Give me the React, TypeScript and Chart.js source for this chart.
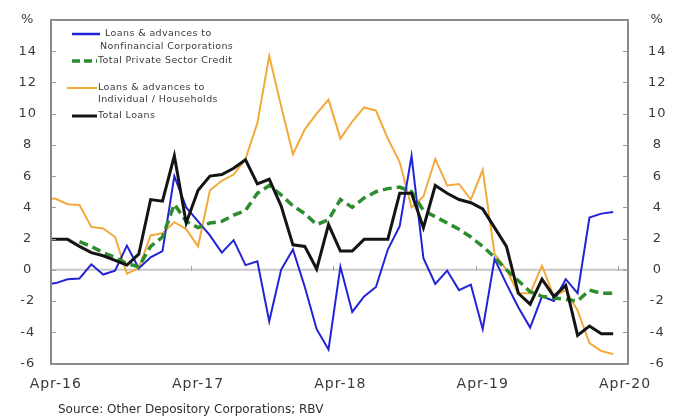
import React, { useEffect, useRef } from 'react';
import { Chart, registerables } from 'chart.js';

Chart.register(...registerables);

// Monthly categories (Mar-16 is only the clipped lead-in at the left border)
const months = [
  'Mar-16', 'Apr-16', 'May-16', 'Jun-16', 'Jul-16', 'Aug-16', 'Sep-16', 'Oct-16', 'Nov-16', 'Dec-16', 'Jan-17', 'Feb-17', 'Mar-17',
  'Apr-17', 'May-17', 'Jun-17', 'Jul-17', 'Aug-17', 'Sep-17', 'Oct-17', 'Nov-17', 'Dec-17', 'Jan-18', 'Feb-18', 'Mar-18',
  'Apr-18', 'May-18', 'Jun-18', 'Jul-18', 'Aug-18', 'Sep-18', 'Oct-18', 'Nov-18', 'Dec-18', 'Jan-19', 'Feb-19', 'Mar-19',
  'Apr-19', 'May-19', 'Jun-19', 'Jul-19', 'Aug-19', 'Sep-19', 'Oct-19', 'Nov-19', 'Dec-19', 'Jan-20', 'Feb-20', 'Mar-20',
];

const xTickLabels = ['Apr-16', 'Apr-17', 'Apr-18', 'Apr-19', 'Apr-20'];
const xTickMonths = [0, 12, 24, 36, 48];
const yTickValues = [-6, -4, -2, 0, 2, 4, 6, 8, 10, 12, 14, 16];

const nonfinancialCorps = [
  -0.95, -0.85, -0.6, -0.55, 0.35, -0.3, -0.05, 1.55, 0.1, 0.8, 1.2, 6.0, 4.0,
  3.1, 2.2, 1.1, 1.9, 0.3, 0.55, -3.3, 0.0, 1.3, -1.1, -3.8, -5.1,
  0.2, -2.7, -1.7, -1.1, 1.3, 2.8, 7.3, 0.75, -0.9, -0.05, -1.3, -0.95,
  -3.8, 0.7, -0.9, -2.4, -3.7, -1.7, -2.0, -0.6, -1.5, 3.35, 3.6, 3.7,
];

const privateSectorCredit = [
  null, null, null, 1.8, 1.5, 1.1, 0.8, 0.4, 0.2, 1.5, 2.1, 4.2, 3.1,
  2.7, 3.0, 3.1, 3.5, 3.8, 4.9, 5.4, 4.8, 4.1, 3.6, 2.9, 3.2,
  4.5, 4.0, 4.6, 5.0, 5.2, 5.3, 5.0, 3.8, 3.4, 3.0, 2.6, 2.1,
  1.5, 0.8, 0.0, -0.7, -1.4, -1.7, -1.8, -1.9, -2.0, -1.3, -1.5, -1.5,
];

const households = [
  4.6, 4.55, 4.2, 4.15, 2.75, 2.65, 2.1, -0.25, 0.1, 2.2, 2.35, 3.05, 2.6,
  1.5, 5.1, 5.7, 6.1, 7.1, 9.4, 13.7, 10.5, 7.4, 9.0, 10.0, 10.9,
  8.4, 9.5, 10.4, 10.2, 8.4, 6.9, 4.0, 4.7, 7.1, 5.4, 5.5, 4.5,
  6.4, 1.0, 0.0, -1.5, -1.5, 0.25, -1.7, -1.3, -2.6, -4.7, -5.2, -5.4,
];

const totalLoans = [
  1.95, 1.95, 1.95, 1.5, 1.1, 0.9, 0.6, 0.3, 1.0, 4.5, 4.4, 7.3, 3.0,
  5.1, 6.0, 6.1, 6.5, 7.05, 5.5, 5.8, 4.1, 1.6, 1.5, 0.05, 2.9,
  1.2, 1.2, 1.95, 1.95, 1.95, 4.9, 4.9, 2.7, 5.4, 4.9, 4.5, 4.3,
  3.9, 2.7, 1.5, -1.5, -2.2, -0.6, -1.7, -1.0, -4.2, -3.6, -4.1, -4.1,
];

const COLORS = {
  blue: '#2222d6',
  green: '#2d8c2d',
  orange: '#f2a93a',
  black: '#141414',
  axis: '#888888',
  zero: '#c6c6c6',
  text: '#3a3a3a',
};

const FONT = '"DejaVu Sans", sans-serif';

const toPoints = (arr: (number | null)[]) => arr.map((v, k) => ({ x: k - 1, y: v }));

const strokeLine = (ctx: CanvasRenderingContext2D, x1: number, y1: number, x2: number, y2: number) => {
  ctx.beginPath();
  ctx.moveTo(x1, y1);
  ctx.lineTo(x2, y2);
  ctx.stroke();
};

const decorPlugin = {
  id: 'decor',
  beforeUpdate(chart: any) {
    chart.ctx.letterSpacing = '1px';
  },
  beforeDraw(chart: any) {
    chart.ctx.letterSpacing = '1px';
  },
  beforeDatasetsDraw(chart: any) {
    const { ctx, chartArea: a, scales } = chart;
    const y0 = scales.y.getPixelForValue(0);
    ctx.save();
    ctx.setLineDash([]);
    ctx.strokeStyle = COLORS.zero;
    ctx.lineWidth = 2;
    strokeLine(ctx, a.left, y0, a.right, y0);
    ctx.lineWidth = 1;
    ctx.strokeStyle = '#a0a0a0';
    for (const m of xTickMonths.slice(1)) {
      const px = Math.round(scales.x.getPixelForValue(m - 0.6)) + 0.5;
      strokeLine(ctx, px, y0 - 4, px, y0 + 1);
    }
    ctx.restore();
  },
  afterDraw(chart: any) {
    const { ctx, chartArea: a, scales } = chart;
    ctx.save();
    ctx.setLineDash([]);
    ctx.globalAlpha = 1;
    // plot border
    ctx.strokeStyle = COLORS.axis;
    ctx.lineWidth = 2;
    ctx.strokeRect(Math.round(a.left), Math.round(a.top), Math.round(a.right - a.left), Math.round(a.bottom - a.top));
    // inner tick marks on both value axes
    ctx.lineWidth = 1;
    ctx.strokeStyle = '#999999';
    for (const v of yTickValues) {
      const py = Math.round(scales.y.getPixelForValue(v)) + 0.5;
      strokeLine(ctx, a.left, py, a.left + 5, py);
      strokeLine(ctx, a.right - 5, py, a.right, py);
    }

    // legend
    const drawSample = (x1: number, x2: number, y: number, color: string, w: number, dash: number[]) => {
      ctx.save();
      ctx.strokeStyle = color;
      ctx.lineWidth = w;
      ctx.setLineDash(dash);
      strokeLine(ctx, x1, y, x2, y);
      ctx.restore();
    };
    drawSample(72, 100, 34, COLORS.blue, 2.5, []);
    drawSample(72, 97, 61, COLORS.green, 3.5, [8, 4]);
    drawSample(67, 97, 88, COLORS.orange, 2, []);
    drawSample(72, 97, 116, COLORS.black, 3, []);

    ctx.fillStyle = COLORS.text;
    ctx.font = `9.5px ${FONT}`;
    ctx.letterSpacing = '0.4px';
    ctx.textAlign = 'left';
    ctx.textBaseline = 'middle';
    ctx.fillText('Loans & advances to', 105, 34);
    ctx.fillText('Nonfinancial Corporations', 100, 47);
    ctx.fillText('Total Private Sector Credit', 98, 61);
    ctx.fillText('Loans & advances to', 98, 88);
    ctx.fillText('Individual / Households', 98, 100);
    ctx.fillText('Total Loans', 98, 116);

    // source
    ctx.font = `12px ${FONT}`;
    ctx.letterSpacing = '0px';
    ctx.fillStyle = '#2e2e2e';
    ctx.fillText('Source: Other Depository Corporations; RBV', 58, 410);
    ctx.restore();
  },
};

const yTickCallback = (v: any) => (v === 16 ? '%' : String(v));

const fitY = (width: number) => (s: any) => {
  s.width = width;
  s.paddingTop = 0;
  s.paddingBottom = 0;
};

export default function App() {
  const ref = useRef<HTMLCanvasElement>(null);

  useEffect(() => {
    document.body.style.margin = '0';
    const canvas = ref.current;
    if (!canvas) return;

    const line = (data: (number | null)[], color: string, width: number, dash: number[] = []) => ({
      data: toPoints(data),
      borderColor: color,
      backgroundColor: color,
      borderWidth: width,
      borderDash: dash,
      pointRadius: 0,
      tension: 0,
      fill: false,
      spanGaps: false,
      yAxisID: 'y',
    });

    const chart = new Chart(canvas, {
      type: 'line',
      data: {
        datasets: [
          { label: 'Total Loans', ...line(totalLoans, COLORS.black, 3) },
          { label: 'Total Private Sector Credit', ...line(privateSectorCredit, COLORS.green, 3.5, [9, 5]) },
          { label: 'Loans & advances to Nonfinancial Corporations', ...line(nonfinancialCorps, COLORS.blue, 2) },
          { label: 'Loans & advances to Individual / Households', ...line(households, COLORS.orange, 2) },
        ] as any,
      },
      options: {
        animation: false,
        responsive: false,
        maintainAspectRatio: false,
        layout: { padding: { top: 20, left: 0, right: 0, bottom: 0 } },
        plugins: {
          legend: { display: false },
          tooltip: { enabled: false },
          title: { display: false },
        },
        scales: {
          x: {
            type: 'linear',
            position: 'bottom',
            min: -0.4,
            max: 48.25,
            grid: { display: false, drawTicks: false },
            border: { display: false },
            afterBuildTicks: (s: any) => {
              s.ticks = xTickMonths.map((v) => ({ value: v }));
            },
            afterFit: (s: any) => {
              s.height = 55.5;
              s.paddingLeft = 0;
              s.paddingRight = 0;
            },
            ticks: {
              autoSkip: false,
              maxRotation: 0,
              padding: 12,
              color: COLORS.text,
              font: { family: FONT, size: 14 },
              callback: (v: any) => {
                const k = xTickMonths.indexOf(Number(v));
                return k >= 0 ? xTickLabels[k] : '';
              },
            },
          },
          y: {
            type: 'linear',
            position: 'left',
            min: -6,
            max: 16,
            grid: { display: false, drawTicks: false },
            border: { display: false },
            afterBuildTicks: (s: any) => {
              s.ticks = yTickValues.map((v) => ({ value: v }));
            },
            afterFit: fitY(51),
            ticks: {
              crossAlign: 'center',
              padding: 14,
              color: COLORS.text,
              font: { family: FONT, size: 13 },
              callback: yTickCallback,
            },
          },
          y2: {
            type: 'linear',
            position: 'right',
            min: -6,
            max: 16,
            grid: { display: false, drawTicks: false },
            border: { display: false },
            afterBuildTicks: (s: any) => {
              s.ticks = yTickValues.map((v) => ({ value: v }));
            },
            afterFit: fitY(50),
            ticks: {
              crossAlign: 'center',
              padding: 20,
              color: COLORS.text,
              font: { family: FONT, size: 13 },
              callback: yTickCallback,
            },
          },
        },
      } as any,
      plugins: [decorPlugin as any],
    });

    return () => chart.destroy();
  }, []);

  return (
    <div style={{ width: 678, height: 419, background: '#ffffff' }}>
      <canvas ref={ref} width={678} height={419} style={{ display: 'block' }} />
    </div>
  );
}
